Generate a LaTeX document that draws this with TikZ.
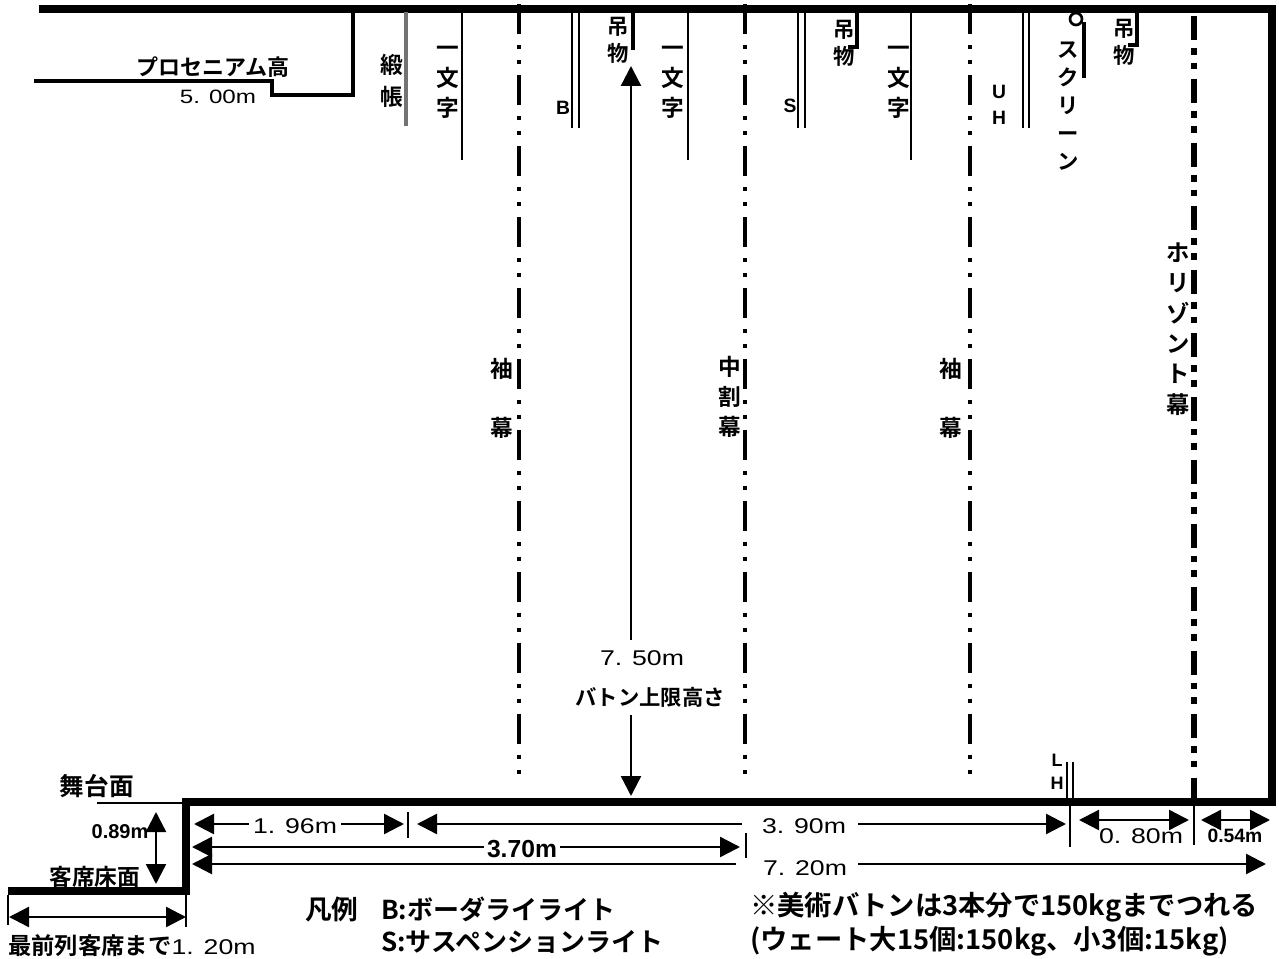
\documentclass[tikz,border=0pt]{standalone}
\usepackage{fontspec}
\setmainfont{Noto Sans CJK JP}[BoldFont={Noto Sans CJK JP Bold}]
\newfontfamily\lat{Liberation Sans}
\newfontfamily\latw[FakeStretch=1.25]{Liberation Sans}
\usetikzlibrary{arrows.meta}
\tikzset{
  x=0.75pt,y=-0.75pt,
  heavy/.style={line width=6pt,line cap=butt,line join=miter},
  mid/.style={line width=2.4pt},
  thin line/.style={line width=1.5pt},
  curtain/.style={line width=3pt,dash pattern=on 22.5pt off 8.2pt on 3pt off 8.2pt on 3pt off 8.3pt},
  horiz/.style={line width=5pt,dash pattern=on 18pt off 6pt on 5pt off 6pt on 5pt off 7.6pt},
  dim/.style={line width=1.8pt,-{Triangle[length=15pt,width=15pt]}},
  dimb/.style={line width=1.8pt,{Triangle[length=15pt,width=15pt]}-{Triangle[length=15pt,width=15pt]}},
  lab/.style={inner sep=0pt,font=\bfseries\fontsize{16}{17}\selectfont,align=center},
  vlab/.style={inner sep=0pt,font=\bfseries\fontsize{17}{22.5}\selectfont,align=center},
  num/.style={inner sep=0pt,font=\latw\fontsize{16}{17}\selectfont},
  small/.style={inner sep=0pt,font=\lat\bfseries\fontsize{14.5}{18}\selectfont,align=center},
  leg/.style={inner sep=0pt,anchor=west,font=\bfseries\fontsize{19.5}{21}\selectfont},
  note/.style={inner sep=0pt,anchor=west,font=\bfseries\fontsize{20.5}{21}\selectfont},
}
\begin{document}
\begin{tikzpicture}
\useasboundingbox (0,0) rectangle (1279,959);
\fill[white] (0,0) rectangle (1279,959);
% frame
\draw[heavy] (39,9) -- (1272,9) -- (1272,802) -- (186,802) -- (186,891) -- (8,891);
% proscenium
\draw[mid] (34,81) -- (272,81) -- (272,95) -- (353,95) -- (353,12);
% hanging
\draw[line width=2.5pt,black!55] (406,12) -- (406,126);
\draw[thin line] (462,12) -- (462,160);
\draw[thin line] (688,12) -- (688,160);
\draw[thin line] (911,12) -- (911,160);
\draw[thin line] (572,12) -- (572,128) (579,12) -- (579,128);
\draw[thin line] (798,12) -- (798,128) (805,12) -- (805,128);
\draw[thin line] (1023,12) -- (1023,128) (1029,12) -- (1029,128);
\draw[mid] (857,12) -- (857,47) -- (848,47);
\draw[mid] (1137,12) -- (1137,45) -- (1128,45);
\draw[mid] (1084,22) -- (1084,78);
\draw[line width=2pt,fill=white] (1076,19) circle (6);
\draw[mid] (633,12) -- (633,50);
% curtains
\draw[curtain] (519,4.3) -- (519,775);
\draw[curtain] (745,4.3) -- (745,775);
\draw[curtain] (970,4.3) -- (970,775);
\draw[horiz] (1194,16) -- (1194,802);
% LH
\draw[thin line] (1067,762) -- (1067,800) (1073,762) -- (1073,800);
% ticks
\draw[thin line] (408,812) -- (408,838);
\draw[thin line] (746,833) -- (746,858);
\draw[thin line] (1070,805) -- (1070,847);
\draw[thin line] (1194,805) -- (1194,845);
\draw[thin line] (8,895) -- (8,925);
\draw[thin line] (186,895) -- (186,927);
\draw[thin line] (97,803) -- (186,803);
% vertical dimension
\coordinate (bt) at (631,66);
\coordinate (bb) at (631,796);
\coordinate (bt0) at (631,640);
\coordinate (bb0) at (631,715);
\node[num] (n750) at (642,658) {7. 50m};
\node[lab] (baton) at (650,697) {バトン上限高さ};
\draw[dim] (bt0) -- (bt);
\draw[dim] (bb0) -- (bb);
% horizontal dimensions
\coordinate (d1l) at (194,824); \coordinate (d1r) at (404,824);
\node[num] (n196) at (295,826) {1. 96m};
\draw[dim] ([xshift=-3pt]n196.west |- d1l) -- (d1l);
\draw[dim] ([xshift=3pt]n196.east |- d1r) -- (d1r);
\coordinate (d2l) at (417,824); \coordinate (d2r) at (1066,824);
\node[num] (n390) at (804,826) {3. 90m};
\coordinate (d2a) at (742,824); \coordinate (d2b) at (858,824);
\draw[dim] (d2a) -- (d2l);
\draw[dim] (d2b) -- (d2r);
\coordinate (d3l) at (192,847); \coordinate (d3r) at (740,847);
\node[inner sep=0pt,font=\lat\bfseries\fontsize{18.5}{18.5}\selectfont] (n370) at (522,849) {3.70m};
\draw[dim] ([xshift=-2pt]n370.west |- d3l) -- (d3l);
\draw[dim] ([xshift=2pt]n370.east |- d3r) -- (d3r);
\coordinate (d4l) at (192,864); \coordinate (d4r) at (1266,864);
\coordinate (d4a) at (736,864); \coordinate (d4b) at (858,864);
\node[num] (n720) at (805,868) {7. 20m};
\draw[dim] (d4a) -- (d4l);
\draw[dim] (d4b) -- (d4r);
\coordinate (d5l) at (1079,820); \coordinate (d5r) at (1189,820);
\draw[dimb] (d5l) -- (d5r);
\node[num] (n080) at (1141,836) {0. 80m};
\coordinate (d6l) at (1201,820); \coordinate (d6r) at (1270,820);
\draw[dimb] (d6l) -- (d6r);
\node[inner sep=0pt,font=\lat\bfseries\fontsize{14.5}{15}\selectfont] (n054) at (1235,836) {0.54m};
\coordinate (d7t) at (156,812); \coordinate (d7b) at (156,884);
\draw[dimb] (d7t) -- (d7b);
\node[inner sep=0pt,font=\lat\bfseries\fontsize{15}{15}\selectfont] (n089) at (120,832) {0.89m};
\coordinate (d8l) at (9,917); \coordinate (d8r) at (186,917);
\draw[dimb] (d8l) -- (d8r);
% labels
\node[lab,font=\bfseries\fontsize{16.5}{17}\selectfont] (pro) at (213,67) {プロセニアム高};
\node[num,font=\latw\fontsize{14.5}{15}\selectfont] (n500) at (218,97) {5. 00m};
\node[vlab,font=\bfseries\fontsize{17}{24}\selectfont] (don) at (392,81) {緞\\帳};
\node[vlab] (ichi1) at (448,82) {一\\文\\字};
\node[vlab] (ichi2) at (673,82) {一\\文\\字};
\node[vlab] (ichi3) at (899,82) {一\\文\\字};
\node[small] (lb) at (563,108) {B};
\node[small] (ls) at (790,106) {S};
\node[small,font=\lat\bfseries\fontsize{14.5}{19.5}\selectfont] (uh) at (999,105) {U\\H};
\node[small,font=\lat\bfseries\fontsize{13.5}{17}\selectfont] (lh) at (1057,772) {L\\H};
\node[vlab,font=\bfseries\fontsize{16}{20}\selectfont] (tsuri1) at (618,40) {吊\\物};
\node[vlab,font=\bfseries\fontsize{16}{20}\selectfont] (tsuri2) at (844,43) {吊\\物};
\node[vlab,font=\bfseries\fontsize{16}{20}\selectfont] (tsuri3) at (1124,42) {吊\\物};
\node[vlab,font=\bfseries\fontsize{16}{21}\selectfont] (scr) at (1068,106) {ス\\ク\\リ\\ー\\ン};
\node[vlab] (sode1) at (502,369) {袖};
\node[vlab] (maku1) at (502,428) {幕};
\node[vlab] (naka) at (730,397) {中\\割\\幕};
\node[vlab] (sode2) at (951,369) {袖};
\node[vlab] (maku2) at (951,428) {幕};
\node[vlab,font=\bfseries\fontsize{17.5}{22.8}\selectfont] (hori) at (1178,329) {ホ\\リ\\ゾ\\ン\\ト\\幕};
\node[lab,font=\bfseries\fontsize{18.5}{20}\selectfont] (butai) at (97,786) {舞台面};
\node[lab,font=\bfseries\fontsize{17}{20}\selectfont] (kyaku) at (95,877) {客席床面};
\node[lab,anchor=west,font=\bfseries\fontsize{17.5}{20}\selectfont] (front) at (8,946) {最前列客席まで{\latw\mdseries\fontsize{16}{17}\selectfont 1. 20m}};
\node[leg,font=\bfseries\fontsize{20}{21}\selectfont] (han) at (305,909) {凡例};
\node[leg] (l1) at (381,909) {B:ボーダライライト};
\node[leg] (l2) at (381,942) {S:サスペンションライト};
\node[note] (n1) at (750,907) {※美術バトンは3本分で150kgまでつれる};
\node[note] (n2) at (750,941) {(ウェート大15個:150kg、小3個:15kg)};
\end{tikzpicture}
\end{document}
